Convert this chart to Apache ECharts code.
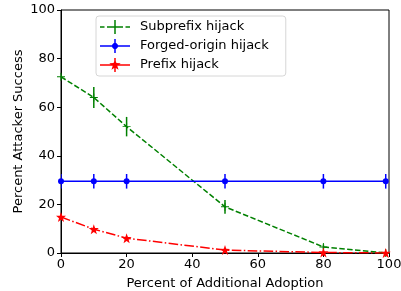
<!DOCTYPE html>
<html>
<head>
<meta charset="utf-8">
<script src="https://cdn.jsdelivr.net/npm/echarts@6/dist/echarts.min.js"></script>
<style>
html, body { margin: 0; padding: 0; background: #fff; }
#main { width: 401px; height: 291px; }
</style>
</head>
<body>
<div id="main"></div>
<script>
var adoption = [0, 10, 20, 50, 80, 99];
var subprefixY = [72.5, 64, 52, 19, 2.5, 0];
var subprefixErr = [1, 4.3, 4, 2.8, 1, 0.3];
var forgedY = [29.5, 29.5, 29.5, 29.5, 29.5, 29.5];
var forgedErr = [3, 3, 3, 3, 3, 3];
var prefixY = [14.8, 9.8, 6.1, 1.2, 0.2, 0];
var prefixErr = [1, 0.8, 0.8, 0.5, 0.3, 0.2];
var xTicks = [0, 20, 40, 60, 80, 100];

var STAR = 'path://M0,-10 L2.35,-3.24 L9.51,-3.09 L3.8,1.24 L5.88,8.09 L0,4 L-5.88,8.09 L-3.8,1.24 L-9.51,-3.09 L-2.35,-3.24 Z';
var PLUS = 'path://M-1.2,-10 L1.2,-10 L1.2,-1.2 L10,-1.2 L10,1.2 L1.2,1.2 L1.2,10 L-1.2,10 L-1.2,1.2 L-10,1.2 L-10,-1.2 L-1.2,-1.2 Z';

// legend icons drawn in a 30x14 box: line + errorbar + marker
function rect(x0, y0, x1, y1) {
	return 'M' + x0 + ',' + y0 + ' L' + x1 + ',' + y0 + ' L' + x1 + ',' + y1 + ' L' + x0 + ',' + y1 + ' Z ';
}
var ICON_SUB = 'path://' + rect(0, 6.25, 4.5, 7.75) + rect(7, 6.25, 11.5, 7.75) + rect(18.5, 6.25, 23, 7.75) +
	rect(25.5, 6.25, 30, 7.75) + rect(10, 6.25, 20, 7.75) + rect(14.25, 0, 15.75, 14);
var ICON_FORGED = 'path://' + rect(0, 6.25, 30, 7.75) + rect(14.25, 0, 15.75, 14) +
	'M13.8,4.1 L16.2,4.1 L17.9,5.8 L17.9,8.2 L16.2,9.9 L13.8,9.9 L12.1,8.2 L12.1,5.8 Z';
var ICON_PREFIX = 'path://' + rect(0, 6.25, 30, 7.75) + rect(14.25, 0, 15.75, 14) +
	'M15,1 L16.41,5.06 L20.71,5.15 L17.28,7.74 L18.53,11.85 L15,9.4 L11.47,11.85 L12.72,7.74 L9.29,5.15 L13.59,5.06 Z';

function pts(ys) {
	return adoption.map(function(x, i) { return [x, ys[i]]; });
}

function errSeries(ys, errs, color) {
	return {
		type: 'custom',
		silent: true,
		clip: true,
		z: 3,
		data: adoption.map(function(x, i) { return [x, ys[i], errs[i]]; }),
		renderItem: function(params, api) {
			var x = api.value(0), y = api.value(1), e = api.value(2);
			var top = api.coord([x, y + e]);
			var bot = api.coord([x, y - e]);
			return {
				type: 'line',
				shape: { x1: top[0], y1: top[1], x2: bot[0], y2: bot[1] },
				style: { stroke: color, lineWidth: 1.5 }
			};
		}
	};
}

var chart = echarts.init(document.getElementById('main'));
var font = 'DejaVu Sans';
chart.setOption({
	animation: false,
	textStyle: { fontFamily: font },
	grid: {
		left: 61, right: 12, top: 10, bottom: 38,
		outerBoundsMode: 'none',
		containLabel: false,
		show: true, borderColor: '#000', borderWidth: 1
	},
	legend: {
		left: 96, top: 16,
		orient: 'vertical',
		itemWidth: 30, itemHeight: 14, itemGap: 5,
		padding: [4, 17, 4, 4],
		borderColor: '#d6d6d6', borderWidth: 1, borderRadius: 3,
		backgroundColor: 'rgba(255,255,255,0.8)',
		textStyle: { fontSize: 13, color: '#000', fontFamily: font, padding: [0, 0, 0, 5] },
		data: [
			{ name: 'Subprefix hijack', icon: ICON_SUB, itemStyle: { color: '#008000' } },
			{ name: 'Forged-origin hijack', icon: ICON_FORGED, itemStyle: { color: '#0000ff' } },
			{ name: 'Prefix hijack', icon: ICON_PREFIX, itemStyle: { color: '#ff0000' } }
		]
	},
	xAxis: {
		type: 'value', min: 0, max: 100, interval: 20,
		name: 'Percent of Additional Adoption',
		nameLocation: 'middle', nameGap: 24,
		nameMoveOverlap: false,
		nameTextStyle: { fontSize: 13, color: '#000' },
		axisLine: { lineStyle: { color: '#000' } },
		axisTick: { show: true, length: 4, lineStyle: { color: '#000' } },
		axisLabel: {
			fontSize: 13, color: '#000', margin: 5,
			customValues: xTicks
		},
		splitLine: { show: false }
	},
	yAxis: {
		type: 'value', min: 0, max: 100, interval: 20,
		name: 'Percent Attacker Success',
		nameLocation: 'middle', nameGap: 42,
		nameMoveOverlap: false,
		nameTextStyle: { fontSize: 13, color: '#000', verticalAlign: 'middle' },
		axisLine: { show: true, lineStyle: { color: '#000' } },
		axisTick: { show: true, length: 4, lineStyle: { color: '#000' } },
		axisLabel: { fontSize: 13, color: '#000', margin: 6 },
		splitLine: { show: false }
	},
	series: [
		{
			name: 'Subprefix hijack', type: 'line', z: 4,
			data: pts(subprefixY),
			color: '#008000',
			symbol: PLUS, symbolSize: 8,
			lineStyle: { color: '#008000', width: 1.5, type: [5.5, 2.4] },
			itemStyle: { color: '#008000' }
		},
		errSeries(subprefixY, subprefixErr, '#008000'),
		{
			name: 'Forged-origin hijack', type: 'line', z: 4,
			data: pts(forgedY),
			color: '#0000ff',
			symbol: 'circle', symbolSize: 6,
			lineStyle: { color: '#0000ff', width: 1.5 },
			itemStyle: { color: '#0000ff' }
		},
		errSeries(forgedY, forgedErr, '#0000ff'),
		{
			name: 'Prefix hijack', type: 'line', z: 4,
			data: pts(prefixY),
			color: '#ff0000',
			symbol: STAR, symbolSize: 10,
			lineStyle: { color: '#ff0000', width: 1.5, type: [9.6, 2.4, 1.5, 2.4] },
			itemStyle: { color: '#ff0000' }
		},
		errSeries(prefixY, prefixErr, '#ff0000')
	]
});
</script>
</body>
</html>
